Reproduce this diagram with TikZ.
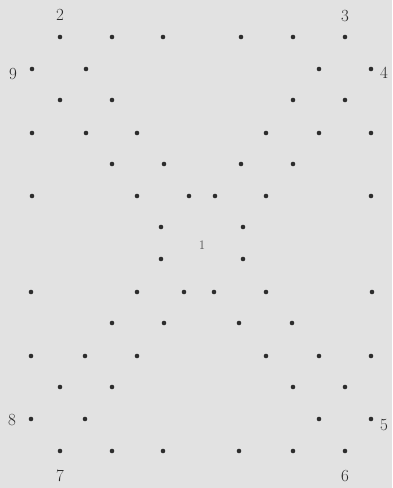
\documentclass[tikz,border=0pt]{standalone}
\definecolor{bg}{RGB}{226,226,226}
\definecolor{dotc}{RGB}{45,45,45}
\definecolor{txt}{RGB}{40,40,40}
\tikzset{
  pt/.style={circle,fill=dotc,inner sep=0pt,minimum size=4.6pt},
  lab/.style={text=txt,inner sep=0pt,font=\fontsize{17}{17}\selectfont},
  cen/.style={text=txt!80,inner sep=0pt,font=\fontsize{13}{13}\selectfont}
}
\begin{document}
\begin{tikzpicture}[x=1pt,y=-1pt]
\fill[bg] (0,0) rectangle (392,488);
\useasboundingbox (0,0) rectangle (392,488);
\foreach \x [count=\i] in {60,112,163,241,293,345} \node[pt] (r1-\i) at (\x,37) {};
\foreach \x [count=\i] in {32,86,319,371} \node[pt] (r2-\i) at (\x,69) {};
\foreach \x [count=\i] in {60,112,293,345} \node[pt] (r3-\i) at (\x,100) {};
\foreach \x [count=\i] in {32,86,137,266,319,371} \node[pt] (r4-\i) at (\x,133) {};
\foreach \x [count=\i] in {112,164,241,293} \node[pt] (r5-\i) at (\x,164) {};
\foreach \x [count=\i] in {32,137,189,215,266,371} \node[pt] (r6-\i) at (\x,196) {};
\foreach \x [count=\i] in {161,243} \node[pt] (r7-\i) at (\x,227) {};
\foreach \x [count=\i] in {161,243} \node[pt] (r8-\i) at (\x,259) {};
\foreach \x [count=\i] in {31,137,184,214,266,372} \node[pt] (r9-\i) at (\x,292) {};
\foreach \x [count=\i] in {112,164,239,292} \node[pt] (r10-\i) at (\x,323) {};
\foreach \x [count=\i] in {31,85,137,266,319,371} \node[pt] (r11-\i) at (\x,356) {};
\foreach \x [count=\i] in {60,112,293,345} \node[pt] (r12-\i) at (\x,387) {};
\foreach \x [count=\i] in {31,85,319,371} \node[pt] (r13-\i) at (\x,419) {};
\foreach \x [count=\i] in {60,112,163,239,293,345} \node[pt] (r14-\i) at (\x,451) {};
\node[lab] (l2) at (60,15) {2};
\node[lab] (l3) at (345,16) {3};
\node[lab] (l9) at (13,74) {9};
\node[lab] (l4) at (384,73) {4};
\node[lab] (l8) at (12,420) {8};
\node[lab] (l5) at (384,425) {5};
\node[lab] (l7) at (60,476) {7};
\node[lab] (l6) at (345,476) {6};
\node[cen] (l1) at (202,245) {1};
\end{tikzpicture}
\end{document}
